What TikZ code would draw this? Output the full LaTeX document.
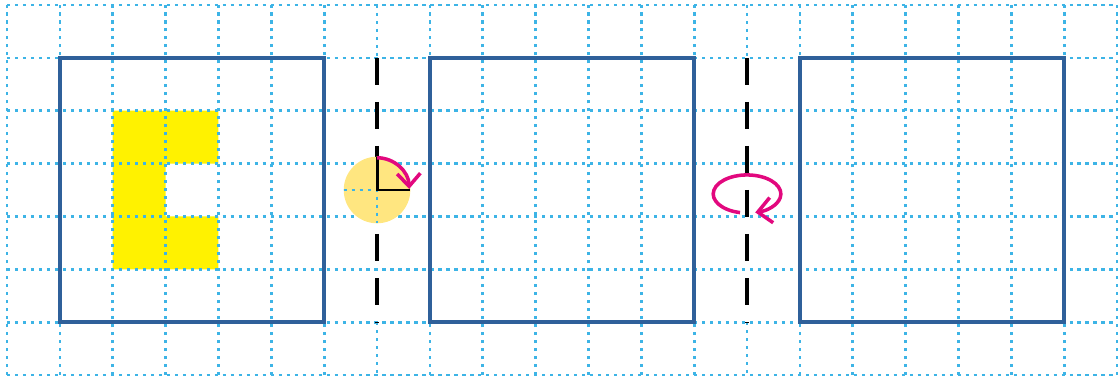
\documentclass[tikz,border=0pt]{standalone}
\usetikzlibrary{arrows.meta,calc}
\definecolor{gridblue}{HTML}{3DB4E6}
\definecolor{boxblue}{HTML}{2F609A}
\definecolor{mag}{HTML}{E2087E}
\definecolor{pale}{HTML}{FFE680}
\tikzset{
  gridline/.style={gridblue, line width=1.45pt, dash pattern=on 1.7pt off 2.6pt},
  bigbox/.style={draw=boxblue, line width=2.2pt},
  axisline/.style={black, line width=2.15pt, dash pattern=on 14.5pt off 9.2pt},
  rotarrow/.style={mag, line width=1.9pt},
}
\begin{document}
\begin{tikzpicture}[x=1cm,y=1cm]
\useasboundingbox (-0.1324,-0.0754) rectangle (21.0176,7.0946);
% yellow C shape
\fill[yellow] (2,2) -- (4,2) -- (4,3) -- (3,3) -- (3,4) -- (4,4) -- (4,5) -- (2,5) -- cycle;
% grid
\foreach \y in {0,...,7} \draw[gridline] (0,\y) -- (21,\y);
\foreach \x in {0,...,6,8,9,10,11,12,13,15,16,17,18,19,20,21} \draw[gridline] (\x,0) -- (\x,7);
\foreach \x in {7,14} {
  \draw[gridline] (\x,7) -- (\x,6);
  \draw[gridline] (\x,1) -- (\x,0);
}
% boxes
\draw[bigbox] (1,1) rectangle (6,6);
\draw[bigbox] (8,1) rectangle (13,6);
\draw[bigbox] (15,1) rectangle (20,6);
% axes
\coordinate (a1t) at (7,6); \coordinate (a1b) at (7,1);
\coordinate (a2t) at (14,6); \coordinate (a2b) at (14,1);
\draw[axisline] (a1t) -- (a1b);
\draw[axisline] (a2t) -- (a2b);
% circle with quarter turn
\coordinate (c) at (7,3.5);
\fill[pale] (c) circle[radius=0.63];
\draw[gridline] ([xshift=-0.63cm]c) -- (c) -- ([yshift=-0.63cm]c);
\draw[black, line width=1.6pt] ([yshift=0.62cm]c) -- (c) -- ([xshift=0.62cm]c);
\draw[rotarrow, -{Straight Barb[length=2.4mm,width=4.4mm]}] ([yshift=0.61cm]c) arc[start angle=90, end angle=2, radius=0.61];
% ellipse rotation
\coordinate (e) at (14,3.425);
\draw[rotarrow, -{Straight Barb[length=2.6mm,width=4.8mm]}] ($(e)+(258:0.64 and 0.36)$) arc[start angle=258, end angle=-76, x radius=0.64, y radius=0.36];
\end{tikzpicture}
\end{document}
